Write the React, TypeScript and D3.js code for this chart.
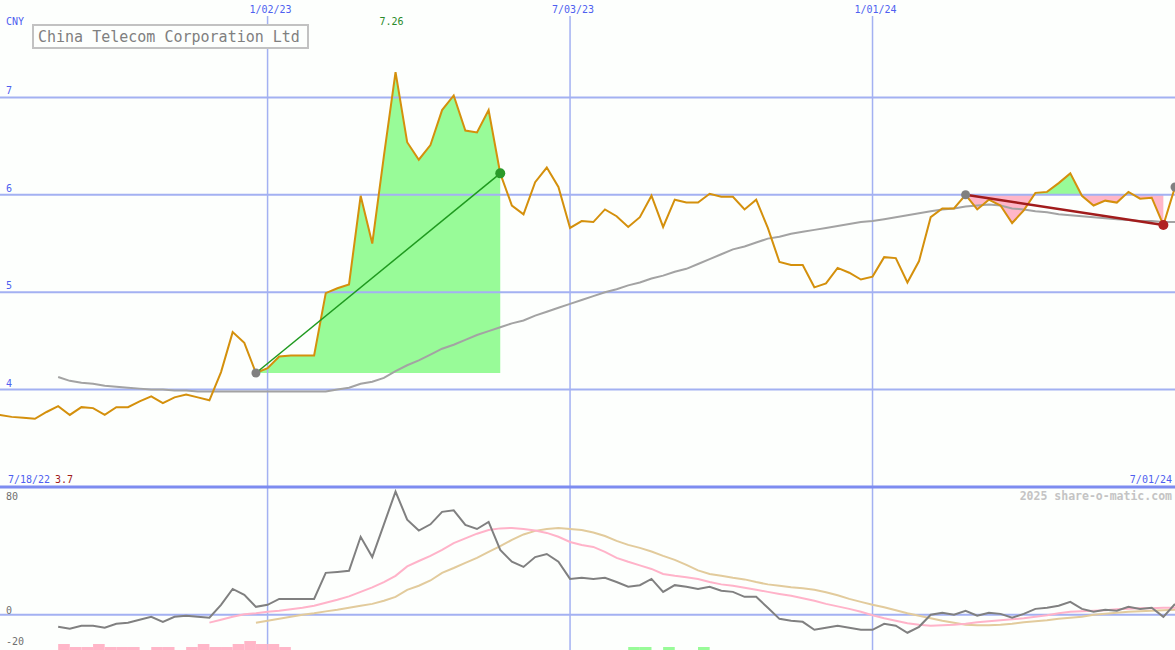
import React from 'react'
import * as d3 from 'd3'

const W = 1175
const H = 650
const MONO = '"DejaVu Sans Mono", "Liberation Mono", monospace'

// weekly closes, Monday 7/18/22 .. Monday 7/01/24
const weeks = d3.timeMonday.range(new Date(2022, 6, 18), new Date(2024, 6, 2))

const price = [
  3.76, 3.74, 3.72, 3.71, 3.70, 3.77, 3.83, 3.74, 3.82, 3.81,
  3.74, 3.82, 3.82, 3.88, 3.93, 3.86, 3.92, 3.95, 3.92, 3.89,
  4.18, 4.59, 4.48, 4.17, 4.22, 4.34, 4.35, 4.35, 4.35, 4.99,
  5.04, 5.08, 5.99, 5.50, 6.40, 7.26, 6.54, 6.36, 6.51, 6.87,
  7.02, 6.66, 6.64, 6.87, 6.22, 5.89, 5.80, 6.13, 6.28, 6.08,
  5.66, 5.73, 5.72, 5.85, 5.78, 5.67, 5.77, 5.99, 5.67, 5.95,
  5.92, 5.92, 6.01, 5.98, 5.98, 5.85, 5.95, 5.66, 5.31, 5.28,
  5.28, 5.05, 5.09, 5.25, 5.20, 5.13, 5.16, 5.36, 5.35, 5.10,
  5.32, 5.77, 5.86, 5.86, 6.00, 5.85, 5.95, 5.89, 5.71, 5.84,
  6.02, 6.03, 6.12, 6.22, 5.99, 5.89, 5.94, 5.92, 6.03, 5.96,
  5.97, 5.69, 6.08,
]

const priceAvg = [
  null, null, null, null, null, null, 4.13, 4.09, 4.07, 4.06,
  4.04, 4.03, 4.02, 4.01, 4.00, 4.00, 3.99, 3.99, 3.98, 3.98,
  3.98, 3.98, 3.98, 3.98, 3.98, 3.98, 3.98, 3.98, 3.98, 3.98,
  4.00, 4.02, 4.06, 4.08, 4.12, 4.19, 4.25, 4.30, 4.36, 4.42,
  4.46, 4.51, 4.56, 4.60, 4.64, 4.68, 4.71, 4.76, 4.80, 4.84,
  4.88, 4.92, 4.96, 5.00, 5.03, 5.07, 5.10, 5.14, 5.17, 5.21,
  5.24, 5.29, 5.34, 5.39, 5.44, 5.47, 5.51, 5.55, 5.57, 5.60,
  5.62, 5.64, 5.66, 5.68, 5.70, 5.72, 5.73, 5.75, 5.77, 5.79,
  5.81, 5.83, 5.85, 5.86, 5.88, 5.89, 5.90, 5.89, 5.86, 5.85,
  5.83, 5.82, 5.80, 5.79, 5.78, 5.77, 5.76, 5.75, 5.74, 5.73,
  5.73, 5.72, 5.72,
]

const momentum = [
  null, null, null, null, null, null, -7.7, -9.0, -7.0, -7.0,
  -8.3, -5.8, -5.1, -3.2, -1.3, -4.5, -1.3, -0.6, -1.3, -1.9,
  6.4, 16.6, 12.8, 5.1, 6.4, 10.2, 10.2, 10.2, 10.2, 26.9,
  27.5, 28.2, 50, 37, 58, 79, 61, 54, 58, 66,
  67, 57.6, 55, 59.5, 41.6, 34, 30.7, 37, 39, 34,
  23, 23.7, 23, 23.7, 21, 18, 19, 23, 14.7, 19,
  18, 16.6, 18, 15.4, 14.7, 11.5, 11.5, 4.5, -2.6, -3.8,
  -4.5, -9.6, -8.3, -7, -8.3, -9.6, -9.6, -5.8, -7, -11.5,
  -7.7, 0, 1.3, 0, 2.6, -0.6, 1.3, 0.6, -1.9, 0.6,
  3.8, 4.5, 5.8, 8.3, 3.8, 1.9, 3.2, 2.6, 5.1, 3.8,
  4.5, -1.3, 7,
]

const momentumFast = [
  null, null, null, null, null, null, null, null, null, null,
  null, null, null, null, null, null, null, null, null, -5,
  -3.2, -1.3, 0.3, 1, 1.9, 2.6, 3.5, 4.5, 5.8, 7.7,
  9.6, 11.8, 14.7, 17.6, 21, 25, 31, 34.5, 37.8, 41.6,
  46, 49, 52, 54.4, 55.4, 55.7, 55, 54, 52.5, 50,
  46.7, 44.8, 43.5, 40.3, 36.5, 34, 31.7, 29.4, 26.2, 25,
  24, 23, 21, 19.5, 18.6, 17.3, 16, 14.7, 13.4, 12.2,
  10.6, 9, 7, 5.4, 3.8, 1.9, -0.3, -2.2, -3.8, -5.4,
  -6.4, -7, -6.7, -6.4, -5.8, -4.8, -4.2, -3.5, -2.9, -2.2,
  -1.3, -0.3, 1, 1.9, 2.2, 2.6, 2.9, 3.5, 3.8, 4.2,
  4.2, 4.5, 4.5,
]

const momentumSlow = [
  null, null, null, null, null, null, null, null, null, null,
  null, null, null, null, null, null, null, null, null, null,
  null, null, null, -5.1, -3.8, -2.6, -1.3, 0, 1, 2.2,
  3.2, 4.5, 5.8, 7, 9, 11.5, 16, 18.6, 22, 26.9,
  30, 33.3, 36.5, 40.3, 44, 48, 51.5, 53.8, 55, 55.7,
  55, 54.4, 52.8, 50.5, 47.4, 44.8, 42.9, 40.6, 37.8, 35.2,
  32, 28.5, 26.2, 25, 23.7, 22.7, 21, 19.5, 18.6, 17.6,
  17, 16, 14.4, 12.5, 10.2, 8.3, 6.4, 4.8, 2.9, 1,
  -0.6, -2.2, -3.8, -5.1, -6.4, -6.7, -6.7, -6.4, -5.8, -4.8,
  -4.2, -3.5, -2.6, -1.9, -1.3, 0, 0.6, 1.3, 1.9, 2.2,
  2.6, 2.9, 3.2,
]

// [week index, level] strips along the bottom edge
const downBars = [
  [6, 2], [7, 1], [8, 1], [9, 2], [10, 1], [11, 1], [12, 1], [14, 1], [15, 1],
  [17, 1], [18, 2], [19, 1], [20, 1], [21, 2], [22, 3], [23, 2], [24, 2], [25, 1],
]
const upBars = [[55, 1], [56, 1], [58, 1], [61, 1]]

const gridDates = [new Date(2023, 0, 2), new Date(2023, 6, 3), new Date(2024, 0, 1)]
const gridLabels = ['1/02/23', '7/03/23', '1/01/24']
const priceTicks = [7, 6, 5, 4]
const oscTicks = [80, 0, -20]

// trend segments: from week, to week, line colour, end dot colour
const trends = [
  { from: 23, to: 44, line: '#1f9a1f', end: '#2a9a2a', width: 1.5 },
  { from: 84, to: 101, line: '#a11c1c', end: '#b02222', width: 2.5 },
]
const lastMarker = 102

export default function App() {
  const x = d3.scaleTime()
    .domain([new Date(2022, 6, 25), new Date(2024, 6, 1)])
    .range([0, W])
  const yP = d3.scaleLinear().domain([3, 8]).range([487, 0])
  const yB = d3.scaleLinear().domain([-20, 80]).range([646, 490])
  const yBar = d3.scaleLinear().domain([0, 3]).range([650, 641])

  const xi = (i: number) => x(weeks[i])

  const lineOf = (vals: (number | null)[], y: (v: number) => number) =>
    d3.line<number>()
      .defined(i => vals[i] != null)
      .x(i => xi(i))
      .y(i => y(vals[i] as number))(d3.range(vals.length))

  const gridBlue = '#a3b1f2'

  return (
    <div style={{ position: 'absolute', left: 0, top: 0 }}>
      <svg width={W} height={H} style={{ display: 'block', background: '#fdfffd' }}>
        <defs>
          {trends.map((t, k) => {
            const base = yP(price[t.from])
            return (
              <React.Fragment key={k}>
                <clipPath id={`above${k}`}><rect x={0} y={0} width={W} height={base} /></clipPath>
                <clipPath id={`below${k}`}><rect x={0} y={base} width={W} height={H - base} /></clipPath>
              </React.Fragment>
            )
          })}
        </defs>

        {/* fills between price and trend start level */}
        {trends.map((t, k) => {
          const base = yP(price[t.from])
          const area = d3.area<number>()
            .x(i => xi(i))
            .y0(base)
            .y1(i => yP(price[i]))(d3.range(t.from, t.to + 1))
          return (
            <g key={k}>
              <path d={area || ''} fill="#98fb98" clipPath={`url(#above${k})`} />
              <path d={area || ''} fill="#ffb6c8" clipPath={`url(#below${k})`} />
            </g>
          )
        })}

        {/* grid */}
        {priceTicks.map(v => (
          <line key={v} x1={0} x2={W} y1={yP(v)} y2={yP(v)} stroke={gridBlue} strokeWidth={2} />
        ))}
        <line x1={0} x2={W} y1={yB(0)} y2={yB(0)} stroke={gridBlue} strokeWidth={2} />
        {gridDates.map((d, k) => (
          <line key={k} x1={x(d)} x2={x(d)} y1={16} y2={H} stroke={gridBlue} strokeWidth={1.5} />
        ))}
        <line x1={0} x2={W} y1={487} y2={487} stroke="#7d8cf0" strokeWidth={3} />

        {/* bottom strips */}
        {downBars.map(([i, lv]) => (
          <rect key={`d${i}`} x={xi(i)} width={xi(i + 1) - xi(i)} y={yBar(lv)} height={650 - yBar(lv)} fill="#ffb6c8" />
        ))}
        {upBars.map(([i, lv]) => (
          <rect key={`u${i}`} x={xi(i)} width={xi(i + 1) - xi(i)} y={yBar(lv)} height={650 - yBar(lv)} fill="#98fb98" />
        ))}

        {/* lower panel lines */}
        <path d={lineOf(momentumSlow, yB) || ''} fill="none" stroke="#e2cb9c" strokeWidth={2} />
        <path d={lineOf(momentumFast, yB) || ''} fill="none" stroke="#ffb3c9" strokeWidth={2} />
        <path d={lineOf(momentum, yB) || ''} fill="none" stroke="#808080" strokeWidth={2} />

        {/* price panel lines */}
        <path d={lineOf(priceAvg, yP) || ''} fill="none" stroke="#a3a3a3" strokeWidth={2} />
        <path d={lineOf(price, yP) || ''} fill="none" stroke="#d4900c" strokeWidth={2} />

        {trends.map((t, k) => (
          <g key={k}>
            <line x1={xi(t.from)} y1={yP(price[t.from])} x2={xi(t.to)} y2={yP(price[t.to])}
              stroke={t.line} strokeWidth={t.width} />
            <circle cx={xi(t.from)} cy={yP(price[t.from])} r={4.5} fill="#808080" />
            <circle cx={xi(t.to)} cy={yP(price[t.to])} r={5} fill={t.end} />
          </g>
        ))}
        <circle cx={xi(lastMarker)} cy={yP(price[lastMarker])} r={4.5} fill="#808080" />

        {/* texts */}
        <g fontFamily={MONO} fontSize={10}>
          <text x={6} y={25} fill="#4f5ff0">CNY</text>
          {priceTicks.map(v => (
            <text key={v} x={6} y={yP(v) - 3} fill="#4f5ff0">{v}</text>
          ))}
          {gridDates.map((d, k) => (
            <text key={k} x={x(d) + 3} y={13} fill="#4f5ff0" textAnchor="middle">{gridLabels[k]}</text>
          ))}
          <text x={xi(35) - 4} y={25} fill="#2a8a2a" textAnchor="middle">{d3.max(price)!.toFixed(2)}</text>
          <text x={8} y={483} fill="#4f5ff0">7/18/22</text>
          <text x={55} y={483} fill="#a01c1c">{d3.min(price)!.toFixed(1)}</text>
          <text x={1172} y={483} fill="#4f5ff0" textAnchor="end">7/01/24</text>
          {oscTicks.map(v => (
            <text key={v} x={v < 0 ? 6 : 6} y={v === 80 ? yB(v) + 10 : yB(v) - 1} fill="#707070">{v}</text>
          ))}
        </g>
        <text x={1172} y={500} fontFamily={MONO} fontSize={11.5} fontWeight="bold" fill="#c4c4c4" textAnchor="end">
          2025 share-o-matic.com
        </text>

        <rect x={33} y={25} width={275} height={23} fill="#fdfffd" stroke="#c2c2c2" strokeWidth={2} />
        <text x={38} y={42} fontFamily={MONO} fontSize={15} fill="#808080">China Telecom Corporation Ltd</text>
      </svg>
    </div>
  )
}
